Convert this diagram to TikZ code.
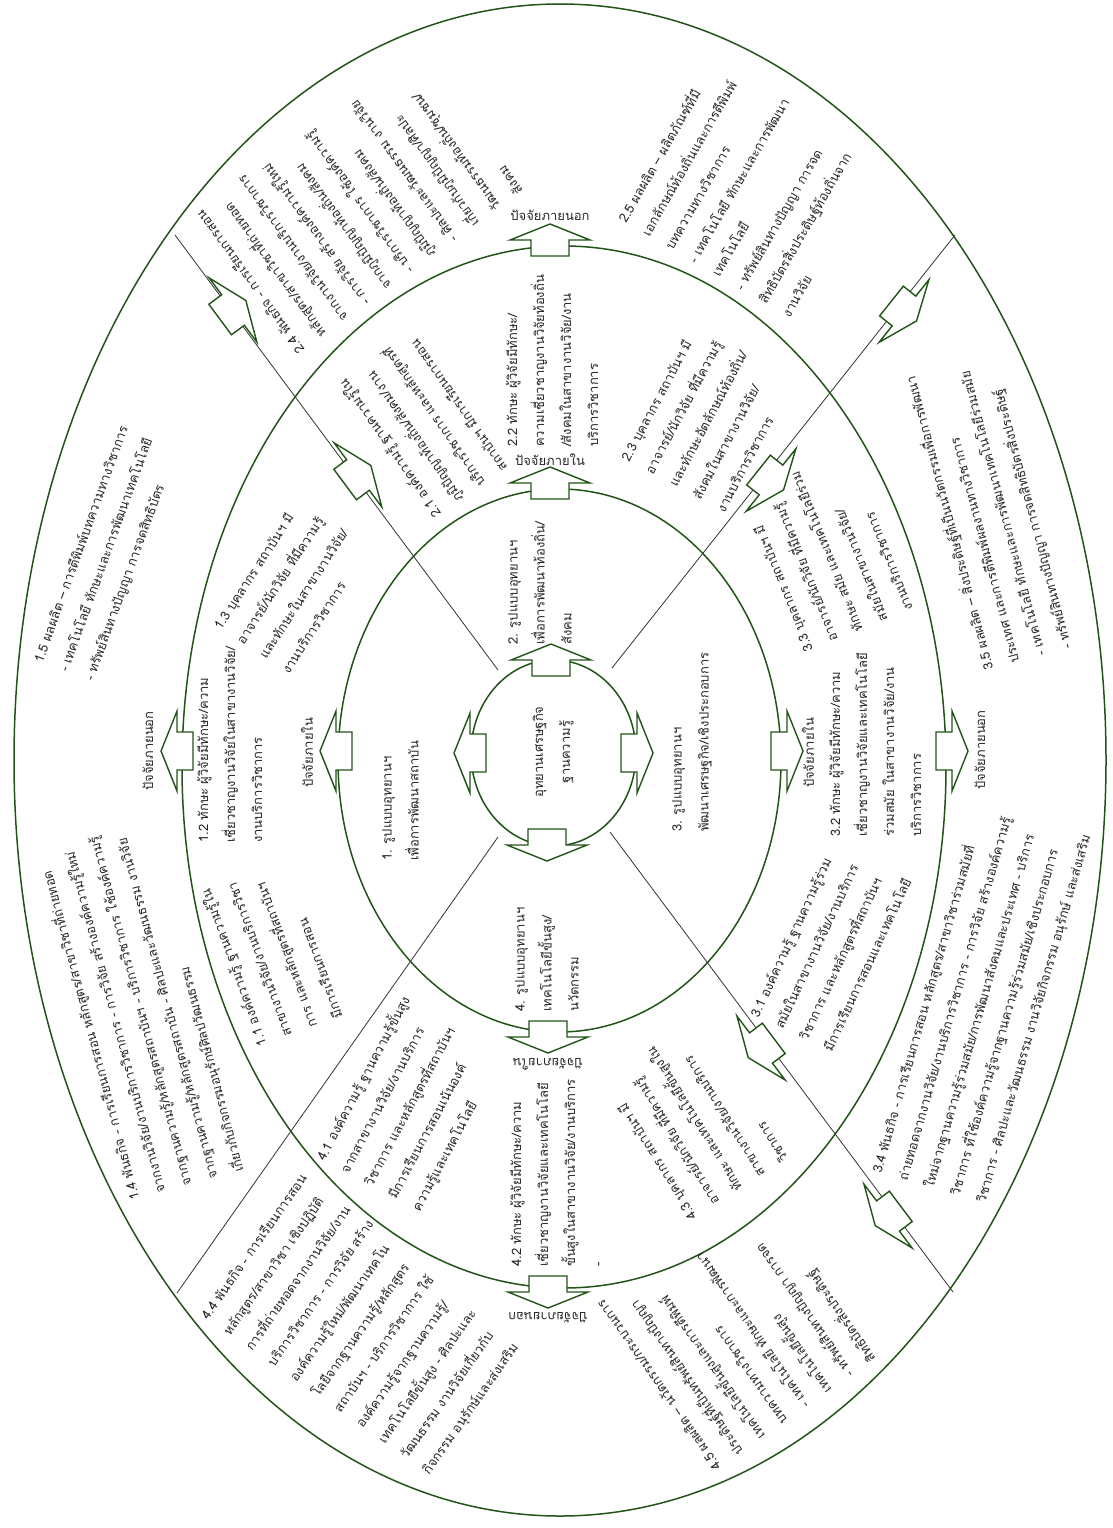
\documentclass[tikz,border=0pt]{standalone}
\usepackage{fontspec}
\setmainfont{Loma}[Script=Thai]
\definecolor{ringgreen}{RGB}{34,84,24}
\newcommand{\thaitext}{\fontsize{13}{27}\selectfont}

\begin{document}
\begin{tikzpicture}[x=1pt,y=-1pt,
  ring/.style={draw=ringgreen, line width=1.5pt},
  sep/.style={draw=black!80, line width=0.8pt},
  blk/.style={align=left, anchor=north west, inner sep=0pt, font=\thaitext, text=black!85},
  lbl/.style={align=center, inner sep=0pt, font=\thaitext, text=black!85},
  barrow/.pic={\draw[draw=ringgreen, line width=1.4pt, fill=white] (-16,-19) -- (0,-19) -- (0,-40) -- (16,0) -- (0,40) -- (0,19) -- (-16,19) -- cycle;}
]
\useasboundingbox (0,0) rectangle (1113,1528);

% dividing lines
\coordinate (ulin) at (498,670);  \coordinate (ulout) at (175,235);
\coordinate (urin) at (612,668);  \coordinate (urout) at (955,235);
\coordinate (llin) at (498,837);  \coordinate (llout) at (177,1293);
\coordinate (lrin) at (610,832);  \coordinate (lrout) at (953,1292);
\foreach \a/\b in {ulin/ulout, urin/urout, llin/llout, lrin/lrout} \draw[sep] (\a) -- (\b);

% rings
\draw[ring] (560,760) ellipse [x radius=546, y radius=756];
\draw[ring] (564,767) ellipse [x radius=382, y radius=521];
\draw[ring] (559.5,760.5) ellipse [x radius=221.5, y radius=271.5];
\draw[ring] (553.5,753) ellipse [x radius=82.5, y radius=93];

% block arrows
\foreach \x/\y/\r in {470/753/180, 637/753/0, 551/660/90, 547/845/-90,
  336/751/180, 787/751/0, 550/483/90, 548/1037/-90,
  177/751/180, 952/751/0, 550/240/90, 548/1292/-90,
  358/475/36.6, 233/310/36.6, 771/480/-38.5, 904/311/-38.5,
  761/1048/-143, 888/1216/-143}
  \pic[rotate=\r] at (\x,\y) {barrow};

% centre and sectors
\node[lbl, rotate=90] (core) at (553,752) {อุทยานเศรษฐกิจ\\ฐานความรู้};
\node[blk, rotate=90, yshift=10pt] (s1) at (392,861) {1. รูปแบบอุทยานฯ\\เพื่อการพัฒนาสถาบัน};
\node[blk, rotate=90, yshift=10pt] (s2) at (518,645) {2. รูปแบบอุทยานฯ\\เพื่อการพัฒนาท้องถิ่น/\\สังคม};
\node[blk, rotate=90, yshift=10pt] (s3) at (682,832) {3. รูปแบบอุทยานฯ\\พัฒนาเศรษฐกิจ/เชิงประกอบการ};
\node[blk, rotate=90, yshift=10pt] (s4) at (525,1012) {4. รูปแบบอุทยานฯ\\เทคโนโลยีขั้นสูง/\\นวัตกรรม};

% factor labels
\node[lbl] (in2) at (550,460) {ปัจจัยภายใน};
\node[lbl] (out2) at (550,215) {ปัจจัยภายนอก};
\node[lbl, rotate=180] (in4) at (548,1064) {ปัจจัยภายใน};
\node[lbl, rotate=180] (out4) at (548,1318) {ปัจจัยภายนอก};
\node[lbl, rotate=90] (in1) at (307,753) {ปัจจัยภายใน};
\node[lbl, rotate=90] (out1) at (148,751) {ปัจจัยภายนอก};
\node[lbl, rotate=90] (in3) at (808,753) {ปัจจัยภายใน};
\node[lbl, rotate=90] (out3) at (980,750) {ปัจจัยภายนอก};

% sector 1
\node[blk, rotate=110, yshift=10pt] (b11) at (265,1045) {1.1 องค์ความรู้ ฐานความรู้ใน\\สาขางานวิจัย/งานบริการวิชา\\การ และหลักสูตรที่สถาบันฯ\\มีการเรียนการสอน};
\node[blk, rotate=90, yshift=10pt] (b12) at (207,843) {1.2 ทักษะ ผู้วิจัยมีทักษะ/ความ\\เชี่ยวชาญงานวิจัยในสาขางานวิจัย/\\งานบริการวิชาการ};
\node[blk, rotate=57, yshift=10pt] (b13) at (220,630) {1.3 บุคลากร สถาบันฯ มี\\อาจารย์/นักวิจัย ที่มีความรู้\\และทักษะในสาขางานวิจัย/\\งานบริการวิชาการ};
\node[blk, rotate=105, yshift=10pt] (b14) at (136,1200) {1.4 พันธกิจ - การเรียนการสอน หลักสูตร/สาขาวิชาที่ถ่ายทอด\\จากงานวิจัย/งานบริการวิชาการ - การวิจัย สร้างองค์ความรู้ใหม่\\จากฐานความรู้/หลักสูตรสถาบันฯ - บริการวิชาการ ใช้องค์ความรู้\\จากฐานความรู้/หลักสูตรสถาบัน - ศิลปะและวัฒนธรรม งานวิจัย\\เกี่ยวกับกิจกรรมอนุรักษ์ศิลปวัฒนธรรม};
\node[blk, rotate=70, yshift=10pt] (b15) at (41,663) {1.5 ผลผลิต – การตีพิมพ์บทความทางวิชาการ\\- เทคโนโลยี ทักษะและการพัฒนาเทคโนโลยี\\- ทรัพย์สินทางปัญญา การจดสิทธิบัตร};

% sector 2
\node[blk, rotate=125, yshift=10pt] (b21) at (440,515) {2.1 องค์ความรู้ ฐานความรู้ใน\\ภูมิปัญญาท้องถิ่น/สังคม/งาน\\บริการวิชาการ และหลักสูตรที่\\สถาบันฯ มีการเรียนการสอน};
\node[blk, rotate=90, yshift=10pt] (b22) at (516,447) {2.2 ทักษะ ผู้วิจัยมีทักษะ/\\ความเชี่ยวชาญงานวิจัยท้องถิ่น\\/สังคมในสาขางานวิจัย/งาน\\บริการวิชาการ};
\node[blk, rotate=62, yshift=10pt] (b23) at (628,462) {2.3 บุคลากร สถาบันฯ มี\\อาจารย์/นักวิจัย ที่มีความรู้\\และทักษะอัตลักษณ์ท้องถิ่น/\\สังคมในสาขางานวิจัย/\\งานบริการวิชาการ};
\node[blk, rotate=126, yshift=10pt] (b24) at (304,350) {2.4 พันธกิจ - การเรียนการสอน\\หลักสูตร/สาขาวิชาที่ถ่ายทอด\\จากงานวิจัย/งานบริการวิชาการ\\- การวิจัย สร้างองค์ความรู้ใหม่\\จากภูมิปัญญาท้องถิ่น/สังคม\\- บริการวิชาการ ใช้องค์ความรู้\\ภูมิปัญญาท้องถิ่น/สังคม\\- ศิลปะและวัฒนธรรม งานวิจัย\\เกี่ยวกับภูมิปัญญา/ศิลปะ\\วัฒนธรรมท้องถิ่น/ชุมชน/\\สังคม};
\node[blk, rotate=60, yshift=10pt] (b25) at (623,222) {2.5 ผลผลิต – ผลิตภัณฑ์ที่มี\\เอกลักษณ์ท้องถิ่นและการตีพิมพ์\\บทความทางวิชาการ\\- เทคโนโลยี ทักษะและการพัฒนา\\เทคโนโลยี\\- ทรัพย์สินทางปัญญา การจด\\สิทธิบัตรสิ่งประดิษฐ์ท้องถิ่นจาก\\งานวิจัย};

% sector 3
\node[blk, rotate=65, yshift=10pt] (b31) at (757,1018) {3.1 องค์ความรู้ ฐานความรู้ร่วม\\สมัยในสาขางานวิจัย/งานบริการ\\วิชาการ และหลักสูตรที่สถาบันฯ\\มีการเรียนการสอนและเทคโนโลยี};
\node[blk, rotate=90, yshift=10pt] (b32) at (839,837) {3.2 ทักษะ ผู้วิจัยมีทักษะ/ความ\\เชี่ยวชาญงานวิจัยและเทคโนโลยี\\ร่วมสมัย ในสาขางานวิจัย/งาน\\บริการวิชาการ};
\node[blk, rotate=112, yshift=10pt] (b33) at (812,650) {3.3 บุคลากร สถาบันฯ มี\\อาจารย์/นักวิจัย ที่มีความรู้\\ทักษะ สมัย และเทคโนโลยีร่วม\\สมัยในสาขางานวิจัย/\\งานบริการวิชาการ};
\node[blk, rotate=74, yshift=10pt] (b34) at (878,1173) {3.4 พันธกิจ - การเรียนการสอน หลักสูตร/สาขาวิชาร่วมสมัยที่\\ถ่ายทอดจากงานวิจัย/งานบริการวิชาการ - การวิจัย สร้างองค์ความรู้\\ใหม่จากฐานความรู้ร่วมสมัย/การพัฒนาสังคมและประเทศ - บริการ\\วิชาการ ที่ใช้องค์ความรู้จากฐานความรู้ร่วมสมัย/เชิงประกอบการ\\วิชาการ - ศิลปะและวัฒนธรรม งานวิจัยกิจกรรม อนุรักษ์ และส่งเสริม};
\node[blk, rotate=105, yshift=10pt] (b35) at (990,670) {3.5 ผลผลิต – สิ่งประดิษฐ์ที่เป็นนวัตกรรมเพื่อการพัฒนา\\ประเทศ และการตีพิมพ์ผลงานทางวิชาการ\\- เทคโนโลยี ทักษะและการพัฒนาเทคโนโลยีร่วมสมัย\\- ทรัพย์สินทางปัญญา การจดสิทธิบัตรสิ่งประดิษฐ์};

% sector 4
\node[blk, rotate=62, yshift=10pt] (b41) at (321,1160) {4.1 องค์ความรู้ ฐานความรู้ขั้นสูง\\จากสาขางานวิจัย/งานบริการ\\วิชาการ และหลักสูตรที่สถาบันฯ\\มีการเรียนการสอนเน้นองค์\\ความรู้และเทคโนโลยี};
\node[blk, rotate=90, yshift=10pt] (b42) at (520,1267) {4.2 ทักษะ ผู้วิจัยมีทักษะ/ความ\\เชี่ยวชาญงานวิจัยและเทคโนโลยี\\ขั้นสูงในสาขางานวิจัย/งานบริการ\\-};
\node[blk, rotate=122, yshift=10pt] (b43) at (696,1217) {4.3 บุคลากร สถาบันฯ มี\\อาจารย์/นักวิจัย ที่มีความรู้\\ทักษะ และเทคโนโลยีขั้นสูงใน\\สาขางานวิจัย/งานบริการ\\วิชาการ};
\node[blk, rotate=55, yshift=10pt] (b44) at (207,1320) {4.4 พันธกิจ - การเรียนการสอน\\หลักสูตร/สาขาวิชา เชิงปฏิบัติ\\การที่ถ่ายทอดจากงานวิจัย/งาน\\บริการวิชาการ - การวิจัย สร้าง\\องค์ความรู้ใหม่/พัฒนาเทคโน\\โลยีจากฐานความรู้/หลักสูตร\\สถาบันฯ - บริการวิชาการ ใช้\\องค์ความรู้จากฐานความรู้/\\เทคโนโลยีขั้นสูง - ศิลปะและ\\วัฒนธรรม งานวิจัยเกี่ยวกับ\\กิจกรรม อนุรักษ์และส่งเสริม};
\node[blk, rotate=125, yshift=10pt] (b45) at (721,1467) {4.5 ผลผลิต – นวัตกรรม/กระบวนการ\\ประดิษฐ์ที่เป็นทรัพย์สินทางปัญญา\\เทคโนโลยีขั้นสูงและการตีพิมพ์\\บทความทางวิชาการ\\- เทคโนโลยี ทักษะและการพัฒนา\\เทคโนโลยีขั้นสูง\\- ทรัพย์สินทางปัญญา การจด\\สิทธิบัตรสิ่งประดิษฐ์};
\end{tikzpicture}
\end{document}
